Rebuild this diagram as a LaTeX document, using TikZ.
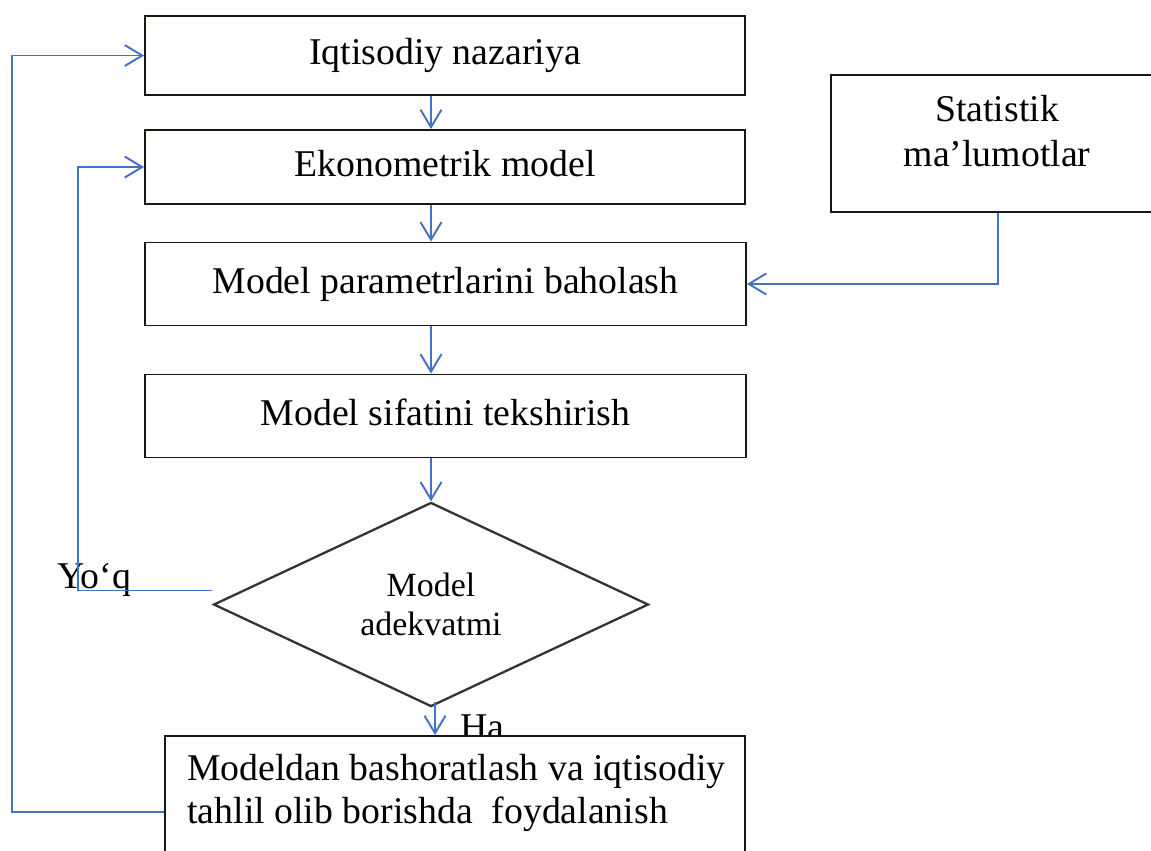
\documentclass[tikz,border=0pt]{standalone}
\usepackage{fontspec}
\setmainfont{Liberation Serif}
\usetikzlibrary{arrows.meta,shapes.geometric}
\definecolor{flowblue}{HTML}{4472C4}
\definecolor{boxline}{HTML}{141A10}
\definecolor{diamline}{HTML}{333333}
\newcommand\myboxfont{\fontsize{21.5}{25.5}\selectfont}
\newcommand\mydiafont{\fontsize{19.3}{22.2}\selectfont}
\begin{document}
\begin{tikzpicture}[x=0.02cm,y=-0.02cm,
  boxnode/.style={draw=boxline,line width=1.1pt,inner sep=0pt,font=\myboxfont,
    text height=13.2pt,text depth=2.5pt},
  decision/.style={diamond,draw=diamline,line width=1.3pt,inner sep=0pt,
    align=center,font=\mydiafont},
  plaintext/.style={inner sep=0pt,font=\myboxfont},
  flow/.style={draw=flowblue,line width=1.1pt,
    -{Straight Barb[length=0.35cm,width=0.42cm]}},
  loopline/.style={draw=flowblue,line width=0.8pt,
    -{Straight Barb[length=0.35cm,width=0.42cm,line width=1.1pt]}}]
\useasboundingbox (0,0) rectangle (1151,850);
\clip (0,0) rectangle (1151,850);

% main boxes
\node[boxnode,minimum width=12cm,minimum height=1.58cm] (b1) at (445,55.5) {Iqtisodiy nazariya};
\node[boxnode,minimum width=12cm,minimum height=1.48cm] (b2) at (445,167) {Ekonometrik model};
\node[boxnode,minimum width=12.02cm,minimum height=1.66cm] (b3) at (445.5,284) {Model parametrlarini baholash};
\node[boxnode,minimum width=12.02cm,minimum height=1.66cm] (b4) at (445.5,416) {Model sifatini tekshirish};

% statistics box
\node[boxnode,minimum width=6.58cm,minimum height=2.74cm] (st) at (995.5,143.5) {};
\node[plaintext,anchor=base] (st1) at (997,121) {Statistik};
\node[plaintext,anchor=base] (st2) at (997,166) {ma’lumotlar};

% decision
\node[decision,minimum width=8.7cm,minimum height=3.94cm] (d) at (431,604.5) {Model\\adekvatmi};

% labels
\node[plaintext,anchor=base west] (yo) at (57,588) {Yo‘q};
\node[plaintext,anchor=base west] (ha) at (460,739) {Ha};

% final box
\node[boxnode,fill=white,minimum width=11.6cm,minimum height=2.8cm] (b5) at (455,806) {};
\node[plaintext,anchor=base west] (b5a) at (187,780) {Modeldan bashoratlash va iqtisodiy};
\node[plaintext,anchor=base west] (b5b) at (187,823) {tahlil olib borishda~ foydalanish};

% main flow
\draw[flow] (b1.south -| d.north) -- (b2.north -| d.north);
\draw[flow] (b2.south -| d.north) -- (b3.north -| d.north);
\draw[flow] (b3.south -| d.north) -- (b4.north -| d.north);
\draw[flow] (b4.south -| d.north) -- (d.north);
\coordinate (hs) at ([shift={(4,-6)}]d.south);
\draw[flow] (hs) -- (hs |- b5.north);

% data input
\draw[flow] ([xshift=0.05cm]st.south) |- (b3.east);

% feedback loops
\coordinate (yk) at (78,400);
\draw[loopline] ([yshift=0.28cm]d.west) -| (yk) |- (b2.west);
\coordinate (lk) at (12,400);
\draw[loopline] ([yshift=-0.12cm]b5.west) -| (lk) |- (b1.west);
\end{tikzpicture}
\end{document}
